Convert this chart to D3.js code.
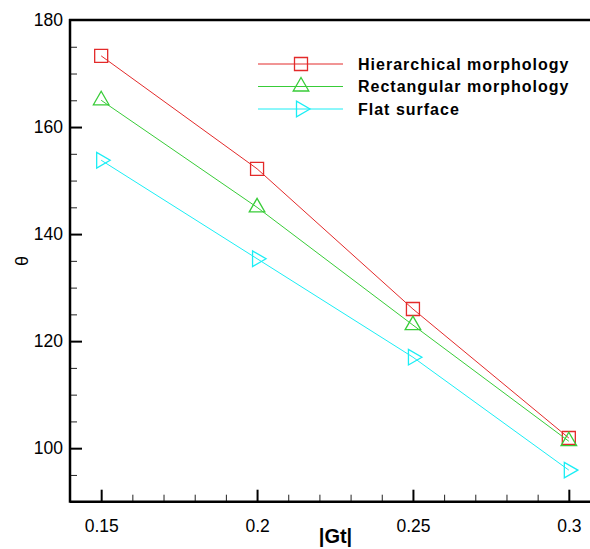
<!DOCTYPE html>
<html><head><meta charset="utf-8">
<script src="https://cdn.jsdelivr.net/npm/d3@7"></script>
<style>
html,body{margin:0;padding:0;background:#fff;}
svg{display:block;font-family:"Liberation Sans",Arial,Helvetica,sans-serif;}
</style></head>
<body>
<svg id="chart" width="590" height="549"></svg>
<script>
const gtValues = [0.15, 0.2, 0.25, 0.3];
const hierarchical = [173.3, 152.2, 126.0, 101.9];
const rectangular = [165.0, 145.0, 123.0, 101.3];
const flat = [153.8, 135.4, 117.0, 95.9];
const seriesNames = ["Hierarchical morphology", "Rectangular morphology", "Flat surface"];
const xTickValues = [0.15, 0.2, 0.25, 0.3];
const xTickLabels = ["0.15", "0.2", "0.25", "0.3"];
const yTickValues = [100, 120, 140, 160, 180];
const yTickLabels = ["100", "120", "140", "160", "180"];

const svg = d3.select("#chart");
const W = 590, H = 549;
const L = 70, T = 20, B = 501.7;
const x = d3.scaleLinear().domain([0.14, 0.31]).range([L, 600]);
const y = d3.scaleLinear().domain([90, 180]).range([B, T]);

const series = [
  {name: seriesNames[0], values: hierarchical, color: "#e32a2a", marker: "square"},
  {name: seriesNames[1], values: rectangular, color: "#38cc38", marker: "up"},
  {name: seriesNames[2], values: flat, color: "#1aeef5", marker: "right"}
];

const R = 9;
function markerPath(type) {
  if (type === "square") { const s = 6.5; return `M${-s},${-s}H${s}V${s}H${-s}Z`; }
  const h = R * Math.sin(Math.PI / 3);
  if (type === "up") return `M0,${-R}L${h},${R/2}L${-h},${R/2}Z`;
  return `M${R},0L${-R/2},${h}L${-R/2},${-h}Z`;
}

const xMinor = d3.range(0.14, 0.3101, 0.01).filter(v => !xTickValues.some(t => Math.abs(t - v) < 1e-6));
const yMinor = d3.range(90, 181, 5).filter(v => !yTickValues.includes(v) && v < 180);

// X axis: major ticks + labels (ticks point inward)
const gx = svg.append("g").attr("transform", `translate(0,${B})`)
  .call(d3.axisBottom(x).tickValues(xTickValues).tickFormat((d, i) => xTickLabels[i]).tickSizeInner(0).tickSizeOuter(0).tickPadding(18));
gx.select(".domain").remove();
gx.selectAll(".tick text").attr("font-size", 17.5).attr("fill", "#000").attr("font-family", "Liberation Sans, Arial, sans-serif");
gx.selectAll(".tick").append("line").attr("x1", 0).attr("x2", 0).attr("y1", 0).attr("y2", -12)
  .attr("stroke", "#000").attr("stroke-width", 2);
const gxm = svg.append("g").attr("transform", `translate(0,${B})`)
  .call(d3.axisBottom(x).tickValues(xMinor).tickFormat("").tickSizeInner(0).tickSizeOuter(0));
gxm.select(".domain").remove();
gxm.selectAll(".tick").append("line").attr("y1", 0).attr("y2", -7).attr("stroke", "#222").attr("stroke-width", 1);

// Y axis
const gy = svg.append("g").attr("transform", `translate(${L},0)`)
  .call(d3.axisLeft(y).tickValues(yTickValues).tickFormat((d, i) => yTickLabels[i]).tickSizeInner(0).tickSizeOuter(0).tickPadding(7));
gy.select(".domain").remove();
gy.selectAll(".tick text").attr("font-size", 17.5).attr("fill", "#000").attr("font-family", "Liberation Sans, Arial, sans-serif");
gy.selectAll(".tick").filter(d => d !== 180).append("line").attr("x1", 0).attr("x2", 12).attr("y1", 0).attr("y2", 0)
  .attr("stroke", "#000").attr("stroke-width", 2);
const gym = svg.append("g").attr("transform", `translate(${L},0)`)
  .call(d3.axisLeft(y).tickValues(yMinor).tickFormat("").tickSizeInner(0).tickSizeOuter(0));
gym.select(".domain").remove();
gym.selectAll(".tick").append("line").attr("x1", 0).attr("x2", 7).attr("stroke", "#222").attr("stroke-width", 1);

// frame lines
svg.append("line").attr("x1", L).attr("x2", W).attr("y1", B).attr("y2", B).attr("stroke", "#000").attr("stroke-width", 2.5);
svg.append("line").attr("x1", L).attr("x2", L).attr("y1", T - 1).attr("y2", B + 1).attr("stroke", "#000").attr("stroke-width", 2.5);
svg.append("line").attr("x1", L - 1).attr("x2", W).attr("y1", T).attr("y2", T).attr("stroke", "#000").attr("stroke-width", 2.5);

// series
const line = d3.line().x((d, i) => x(gtValues[i])).y(d => y(d));
series.forEach(s => {
  svg.append("path").datum(s.values).attr("d", line).attr("fill", "none").attr("stroke", s.color).attr("stroke-width", 1);
  svg.append("g").selectAll("path").data(s.values).join("path")
    .attr("transform", (d, i) => `translate(${x(gtValues[i])},${y(d)})`)
    .attr("d", markerPath(s.marker)).attr("fill", "none").attr("stroke", s.color).attr("stroke-width", 1.3);
});

// legend
const legY = [64, 86.5, 109];
series.forEach((s, i) => {
  const g = svg.append("g").attr("transform", `translate(0,${legY[i]})`);
  g.append("line").attr("x1", 258).attr("x2", 343).attr("y1", 0).attr("y2", 0).attr("stroke", s.color).attr("stroke-width", 1);
  g.append("path").attr("transform", "translate(301,0)").attr("d", markerPath(s.marker)).attr("fill", "none").attr("stroke", s.color).attr("stroke-width", 1.3);
  g.append("text").attr("x", 358).attr("y", 5.8).attr("font-size", 16).attr("font-weight", "bold").attr("letter-spacing", "1px").text(s.name);
});

// axis titles
svg.append("text").attr("x", 335.5).attr("y", 543).attr("text-anchor", "middle").attr("font-size", 20).attr("font-weight", "bold").text("|Gt|");
svg.append("text").attr("transform", "translate(22,261) rotate(-90)").attr("text-anchor", "middle").attr("dominant-baseline", "central").attr("font-size", 18).text("θ");
</script>
</body></html>
